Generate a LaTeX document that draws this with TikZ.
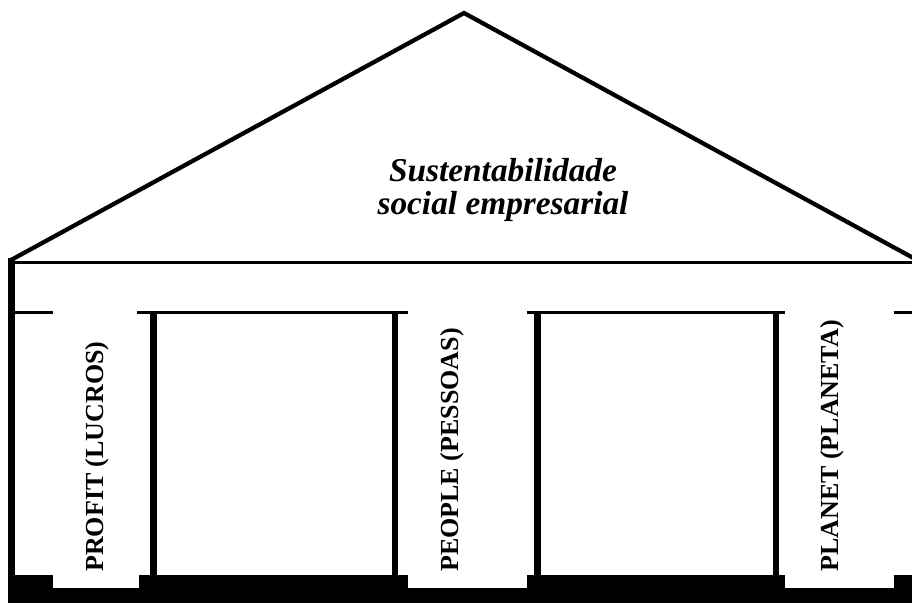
\documentclass[tikz,border=0pt]{standalone}
\usepackage{fontspec}
\setmainfont{Liberation Serif}
\usepackage{tikz}
\usetikzlibrary{calc, positioning}
\newcommand{\bay}[5]{
    \coordinate (#1-tl) at (#2, 312);
    \coordinate (#1-tr) at (#3, 312);
    \coordinate (#1-pl) at (#4, 312);
    \coordinate (#1-pr) at (#5, 312);
    \draw[lintel] (#1-tl) -- (#1-tr);
    \draw[post] (#1-pl) -- ($(#1-pl) + (0, 265)$);
    \draw[post] (#1-pr) -- ($(#1-pr) + (0, 265)$);
}
\newcommand{\pillar}[5]{
    \fill[white] (#2, 575) rectangle (#3, 588);
    \node[pillarlabel] (#1-t) at (#4, 572) {#5};
}

\begin{document}
\begin{tikzpicture}[x=0.75pt, y=-0.75pt,
    roof/.style={line width=3.2pt, line join=miter},
    lintel/.style={line width=2.25pt},
    post/.style={line width=5pt},
    pillarlabel/.style={rotate=90, anchor=base west, inner sep=0pt, font=\fontsize{19.5}{19.5}\selectfont\bfseries},
    title/.style={align=center, inner sep=0pt, font=\fontsize{25}{24.5}\selectfont\bfseries\itshape}]
    \useasboundingbox (0, 0) rectangle (912, 603);
    \clip (0, 0) rectangle (912, 603);
    % roof
    \coordinate (apex) at (464, 13);
    \coordinate (eave-l) at (11, 260);
    \coordinate (eave-r) at (917, 260);
    \draw[roof] (eave-l) -- (apex) -- (eave-r);
    \draw[lintel] (8, 262) -- (912, 262);
    \node[title] (roof-t) at (503, 190) {Sustentabilidade\\social empresarial};
    % walls and bays
    \draw[post] (11.5, 258) -- (11.5, 603);
    \draw[lintel] (14, 312) -- (53, 312);
    \draw[lintel] (894, 312) -- (912, 312);
    \bay{a}{137}{408}{153.5}{395}
    \bay{b}{527}{785}{537.5}{776}
    % base
    \fill (8, 575) rectangle (912, 603);
    \pillar{profit}{53}{139}{103}{PROFIT (LUCROS)}
    \pillar{people}{408}{527}{458}{PEOPLE (PESSOAS)}
    \pillar{planet}{785}{894}{838}{PLANET (PLANETA)}
\end{tikzpicture}
\end{document}
